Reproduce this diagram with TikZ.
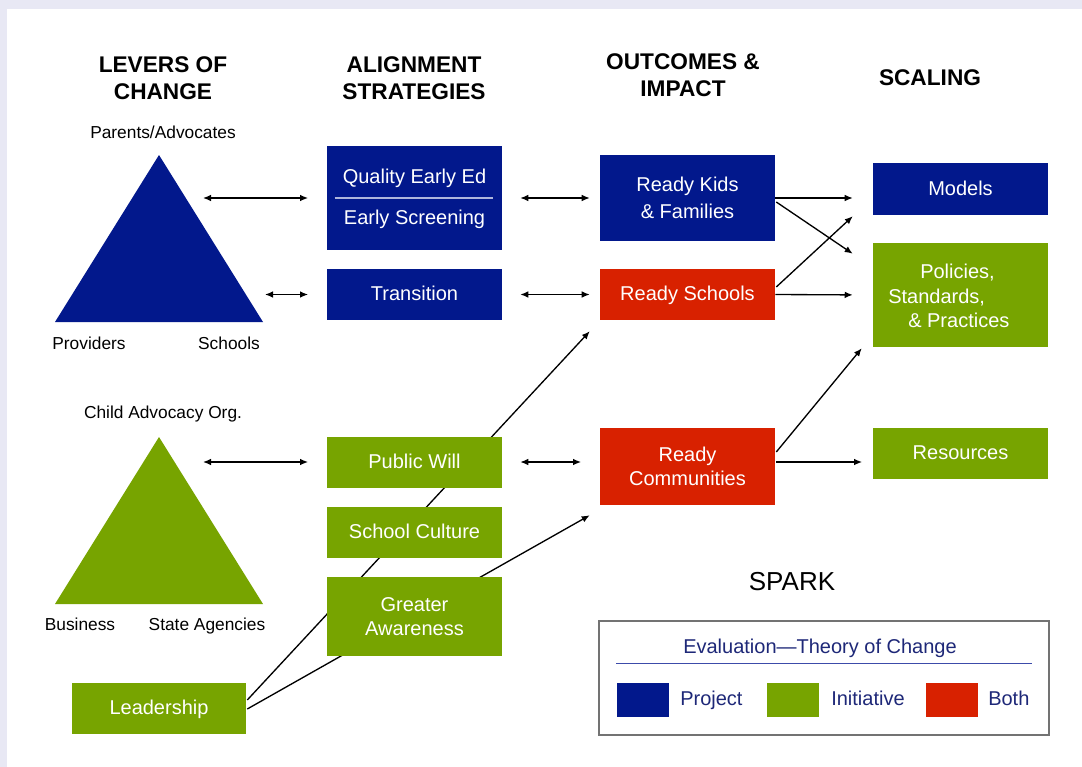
\documentclass[tikz,border=0pt]{standalone}
\usepackage{fontspec}
\setmainfont{Liberation Sans}
\usetikzlibrary{arrows.meta,calc}

\definecolor{projblue}{RGB}{2,24,140}
\definecolor{initgreen}{RGB}{119,164,0}
\definecolor{bothred}{RGB}{216,33,0}
\definecolor{framebg}{RGB}{232,232,244}
\definecolor{legendtext}{RGB}{30,40,120}
\definecolor{legendrule}{RGB}{60,75,170}
\definecolor{divider}{RGB}{175,182,220}

\tikzset{
  heading/.style={font=\fontsize{17}{20.25}\selectfont\bfseries, align=center, inner sep=0pt},
  lbl/.style={font=\fontsize{13}{15}\selectfont, inner sep=0pt, text height=0.716em, text depth=0pt},
  box/.style={minimum width=131.25pt, minimum height=38.25pt, inner sep=0pt,
    text=white, font=\fontsize{15}{18.5}\selectfont, align=center},
  single/.style={text height=0.92em, text depth=0pt},
  boxtext/.style={text=white, font=\fontsize{15}{18.5}\selectfont, inner sep=0pt},
  link/.style={line width=1pt, -{Latex[length=6pt,width=5pt]}},
  duplex/.style={line width=1pt, {Latex[length=6pt,width=5pt]}-{Latex[length=6pt,width=5pt]}},
  swatch/.style={minimum width=39pt, minimum height=25.5pt, inner sep=0pt},
  legtext/.style={text=legendtext, font=\fontsize{15}{18}\selectfont, inner sep=0pt,
    text height=0.716em, text depth=0pt},
}

\begin{document}
\begin{tikzpicture}[x=0.75pt,y=-0.75pt]
  % page frame
  \fill[framebg] (0,0) rectangle (1082,767);
  \fill[white] (7,9) rectangle (1082,767);
  \useasboundingbox (0,0) rectangle (1082,767);

  % column headings
  \node[heading] (h1) at (163,78.5) {LEVERS OF\\CHANGE};
  \node[heading] (h2) at (414,78.5) {ALIGNMENT\\STRATEGIES};
  \node[heading] (h3) at (683,75.5) {OUTCOMES \&\\IMPACT};
  \node[heading] (h4) at (930,78) {SCALING};

  % lever triangles
  \coordinate (t1top) at (159,155);
  \coordinate (t1l) at (55,322);
  \coordinate (t1r) at (263,322);
  \fill[projblue] (t1top) -- (t1l) -- (t1r) -- cycle;
  \coordinate (t2top) at (159,437);
  \coordinate (t2l) at (55,604);
  \coordinate (t2r) at (263,604);
  \fill[initgreen] (t2top) -- (t2l) -- (t2r) -- cycle;

  \node[lbl] (parents) at (163,134) {Parents/Advocates};
  \node[lbl] (providers) at (89,345) {Providers};
  \node[lbl] (schools) at (229,345) {Schools};
  \node[lbl] (childadv) at (163,414) {Child Advocacy Org.};
  \node[lbl] (business) at (80,626) {Business};
  \node[lbl] (state) at (207,626) {State Agencies};

  % leadership links run behind the strategy boxes
  \node[box, single, fill=initgreen, minimum width=130.5pt] (lead) at (159,708.5) {Leadership};
  \node[box, single, fill=bothred] (rs) at (687.5,294.5) {Ready Schools};
  \node[box, fill=bothred, minimum height=57.75pt] (rc) at (687.5,466.5) {Ready\\Communities};
  \draw[link] ($(lead.east)+(1,-8.5)$) -- ($(rs.south west)+(-10,11)$);
  \draw[link] ($(lead.east)+(1,0.5)$) -- ($(rc.south west)+(-10,10)$);

  % alignment strategies
  \node[box, fill=projblue, minimum height=78pt] (q) at (414.5,198) {};
  \node[boxtext, single] (qt1) at (414.5,177) {Quality Early Ed};
  \node[boxtext, single] (qt2) at (414.5,218) {Early Screening};
  \draw[divider, line width=1.2pt] ($(q.west)+(8,0)$) -- ($(q.east)+(-9,0)$);
  \node[box, single, fill=projblue] (tr) at (414.5,294.5) {Transition};
  \node[box, single, fill=initgreen] (pw) at (414.5,462.5) {Public Will};
  \node[box, single, fill=initgreen] (sc) at (414.5,532.5) {School Culture};
  \node[box, fill=initgreen, minimum height=59.25pt] (ga) at (414.5,616.5) {Greater\\Awareness};

  % outcomes
  \node[box, fill=projblue, minimum height=64.5pt] (rk) at (687.5,198) {Ready Kids\\[2pt]\& Families};

  % scaling
  \node[box, single, fill=projblue, minimum height=39pt] (models) at (960.5,189) {Models};
  \node[box, fill=initgreen, minimum height=78pt] (pol) at (960.5,295) {};
  \node[boxtext, align=left, anchor=west] (polt) at (888,296)
    {\hspace*{24pt}Policies,\\Standards,\\\hspace*{15pt}\& Practices};
  \node[box, single, fill=initgreen] (res) at (960.5,453.5) {Resources};

  % lever <-> strategy links
  \coordinate (t1a) at (203,198);
  \coordinate (t1b) at (265,294.5);
  \coordinate (t2a) at (203,462);
  \draw[duplex, shorten >=14pt] (t1a) -- (t1a -| q.west);
  \draw[duplex, shorten >=14pt] (t1b) -- (tr.west);
  \draw[duplex, shorten >=14pt] (t2a) -- (t2a -| pw.west);

  % strategy <-> outcome links
  \draw[duplex, shorten <=13.5pt, shorten >=7.5pt] (q.east) -- (rk.west);
  \draw[duplex, shorten <=13.5pt, shorten >=7.5pt] (tr.east) -- (rs.west);
  \coordinate (pwr) at ($(pw.east)+(0,-0.5)$);
  \draw[duplex, shorten <=13.5pt, shorten >=14pt] (pwr) -- (pwr -| rc.west);

  % outcome -> scaling links
  \draw[link, shorten >=15pt] (rk.east) -- (models.west |- rk.east);
  \draw[link] ($(rk.east)+(1,4)$) -- ($(pol.north west)+(-20,11)$);
  \draw[link] ($(rs.east)+(1,-7.5)$) -- ($(models.south west)+(-20,1)$);
  \draw[link, shorten >=15pt] (rs.east) -- (pol.west);
  \draw[link] ($(rc.east)+(1,-14.5)$) -- ($(pol.south west)+(-11,1)$);
  \coordinate (rcr) at ($(rc.east)+(1,-4.5)$);
  \draw[link, shorten >=8pt] (rcr) -- (rcr -| res.west);

  % title and legend
  \node[font=\fontsize{19.5}{22}\selectfont, inner sep=0pt] (spark) at (792,582) {SPARK};
  \node[draw=black!55, line width=1.2pt, minimum width=337.5pt, minimum height=85.5pt, inner sep=0pt] (legend) at (824,678) {};
  \node[legtext] (legtitle) at (820,649) {Evaluation—Theory of Change};
  \draw[legendrule, line width=0.9pt] ($(legend.north west)+(18,43)$) -- ($(legend.north east)+(-18,43)$);
  \node[swatch, fill=projblue] (swp) at (643,700) {};
  \node[legtext, anchor=west] (lp) at (680,701) {Project};
  \node[swatch, fill=initgreen] (swi) at (793,700) {};
  \node[legtext, anchor=west] (li) at (831,701) {Initiative};
  \node[swatch, fill=bothred] (swb) at (951.5,700) {};
  \node[legtext, anchor=west] (lb) at (988,701) {Both};
\end{tikzpicture}
\end{document}
